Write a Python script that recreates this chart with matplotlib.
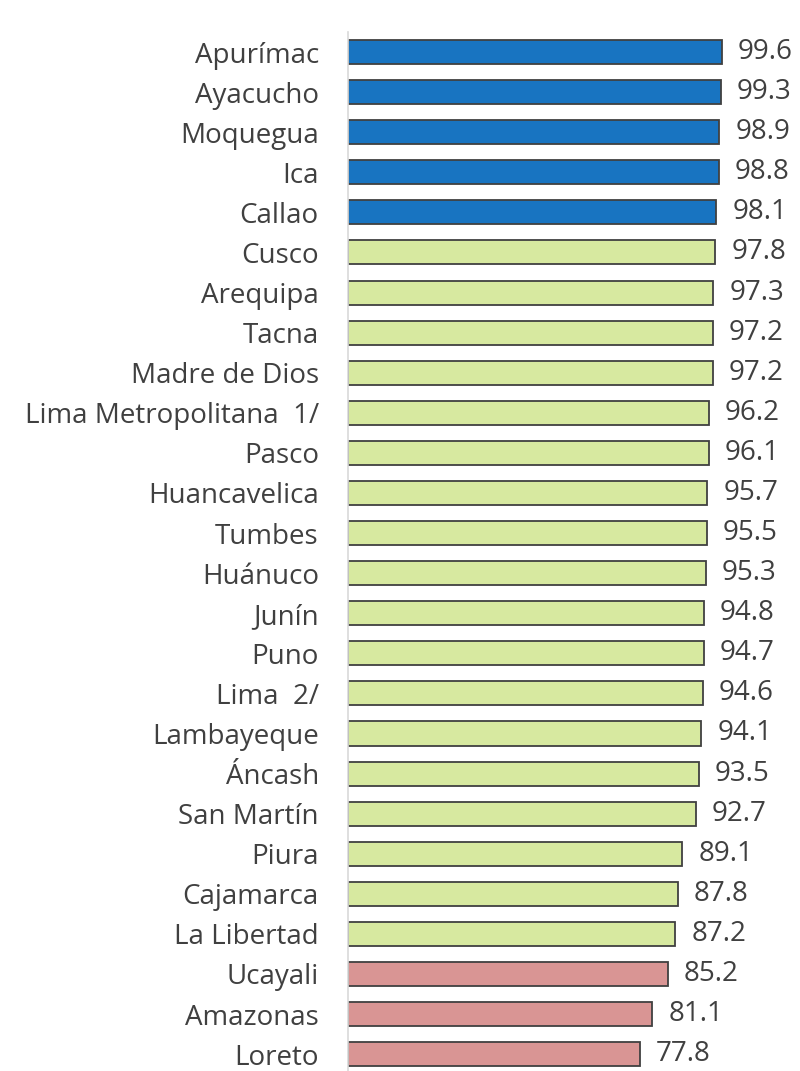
import matplotlib
matplotlib.use("Agg")
import matplotlib.pyplot as plt

regions = ["Apurímac", "Ayacucho", "Moquegua", "Ica", "Callao", "Cusco", "Arequipa",
           "Tacna", "Madre de Dios", "Lima Metropolitana  1/", "Pasco", "Huancavelica",
           "Tumbes", "Huánuco", "Junín", "Puno", "Lima  2/", "Lambayeque", "Áncash",
           "San Martín", "Piura", "Cajamarca", "La Libertad", "Ucayali", "Amazonas", "Loreto"]
values = [99.6, 99.3, 98.9, 98.8, 98.1, 97.8, 97.3, 97.2, 97.2, 96.2, 96.1, 95.7, 95.5,
          95.3, 94.8, 94.7, 94.6, 94.1, 93.5, 92.7, 89.1, 87.8, 87.2, 85.2, 81.1, 77.8]
groups = ["high"] * 5 + ["mid"] * 18 + ["low"] * 3

palette = {"high": "#1874C1", "mid": "#D7E9A0", "low": "#D99594"}
colors = [palette[g] for g in groups]

plt.rcParams['font.family'] = ['Open Sans', 'DejaVu Sans']
W, H = 800, 1071
fig = plt.figure(figsize=(W / 100, H / 100), dpi=100)
ax = fig.add_axes([348 / W, 0, 1 - 348 / W, (H - 32) / H])

pos = list(range(len(regions)))
ax.barh(pos, values, height=0.6, color=colors, edgecolor="#404040", linewidth=1.3)
ax.set_ylim(25.42, -0.5)
ax.set_xlim(0, 120.4)

for p, v in zip(pos, values):
    ax.annotate(f"{v:.1f}", (v, p), xytext=(11.5, 0), textcoords="offset points",
                va="center", ha="left", fontsize=20, color="#404040")

ax.set_yticks(pos)
ax.set_yticklabels(regions, fontsize=20, color="#404040")
ax.tick_params(axis="y", length=0, pad=21)
ax.set_xticks([])
for s in ["top", "right", "bottom"]:
    ax.spines[s].set_visible(False)
ax.spines["left"].set_color("#D9D9D9")
ax.spines["left"].set_linewidth(1.2)

fig.savefig("out.png", dpi=100)
